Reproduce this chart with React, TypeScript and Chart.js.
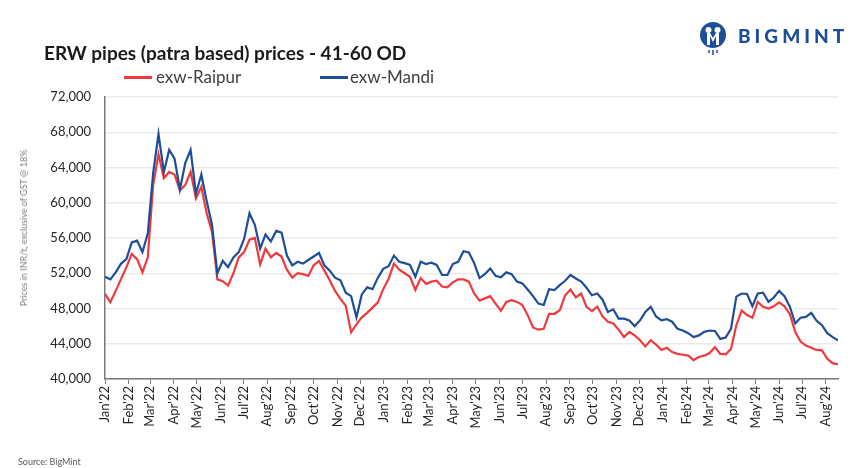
import React, { useEffect, useRef } from "react";
import { Chart, registerables } from "chart.js";

Chart.register(...registerables);

const chartTitle = "ERW pipes (patra based) prices - 41-60 OD";
const seriesNames = ["exw-Raipur", "exw-Mandi"];
const yAxisTitle = "Prices in INR/t, exclusive of GST @ 18%";
const sourceText = "Source: BigMint";

const monthLabels = [
  "Jan'22", "Feb'22", "Mar'22", "Apr'22", "May'22", "Jun'22", "Jul'22", "Aug'22", "Sep'22", "Oct'22", "Nov'22", "Dec'22",
  "Jan'23", "Feb'23", "Mar'23", "Apr'23", "May'23", "Jun'23", "Jul'23", "Aug'23", "Sep'23", "Oct'23", "Nov'23", "Dec'23",
  "Jan'24", "Feb'24", "Mar'24", "Apr'24", "May'24", "Jun'24", "Jul'24", "Aug'24",
];
// day offsets (from 1 Jan 2022) of each month start
const monthStartDays = [
  0, 31, 59, 90, 120, 151, 181, 212, 243, 273, 304, 334,
  365, 396, 424, 455, 485, 516, 546, 577, 608, 638, 669, 699,
  730, 761, 790, 821, 851, 882, 912, 943,
];
const lastDay = 959;
const daysPerPoint = 7;
const yTickValues = [40000, 44000, 48000, 52000, 56000, 60000, 64000, 68000, 72000];

// weekly readings, INR/t
const raipur = [
  49650, 48700, 50000, 51350, 52700, 54200, 53600, 52100, 53800, 62000,
  65500, 62800, 63500, 63200, 61400, 62000, 63500, 60500, 61800, 58800,
  56700, 51300, 51100, 50600, 52000, 53800, 54400, 55800, 56000, 53000,
  54800, 53800, 54300, 53900, 52400, 51500, 52000, 51900, 51700, 52900,
  53400, 52300, 51200, 50000, 49100, 48300, 45300, 46200, 47000, 47500,
  48100, 48700, 50200, 51350, 53100, 52400, 52000, 51600, 50100, 51450,
  50800, 51050, 51150, 50500, 50400, 50950, 51300, 51300, 51050, 49700,
  48900, 49150, 49400, 48550, 47750, 48750, 48950, 48750, 48400, 47250,
  45850, 45600, 45700, 47400, 47400, 47800, 49500, 50150, 49250, 49700,
  48200, 47700, 48200, 47100, 46500, 46300, 45600, 44750, 45350, 44950,
  44400, 43700, 44400, 43900, 43300, 43550, 43050, 42850, 42750, 42650,
  42150, 42500, 42650, 42950, 43600, 42850, 42800, 43400, 46100, 47750,
  47250, 46950, 48750, 48200, 48000, 48250, 48700, 48250, 47350, 45350,
  44250, 43800, 43550, 43300, 43250, 42300, 41800, 41650,
];
const mandi = [
  51600, 51300, 52100, 53100, 53600, 55500, 55700, 54400, 56500, 63350,
  67800, 63500, 66000, 65000, 61500, 64500, 66000, 61000, 63200, 60200,
  57500, 52000, 53400, 52700, 53800, 54400, 55900, 58800, 57500, 54800,
  56400, 55600, 56800, 56600, 54000, 52900, 53300, 53100, 53500, 53900,
  54300, 52900, 52300, 51500, 51200, 49800, 49400, 47000, 49600, 50400,
  50200, 51500, 52500, 52800, 54000, 53300, 53150, 52950, 51600, 53300,
  53050, 53200, 52950, 51800, 51800, 53050, 53300, 54500, 54350, 53150,
  51450, 51900, 52550, 51700, 51550, 52100, 51900, 51050, 50850, 50150,
  49400, 48550, 48400, 50200, 50100, 50650, 51150, 51800, 51400, 51050,
  50350, 49500, 49700, 49000, 47600, 47900, 46850, 46850, 46650, 46000,
  46650, 47600, 48200, 47100, 46650, 46800, 46500, 45700, 45500, 45200,
  44750, 44950, 45350, 45500, 45450, 44550, 44700, 45700, 49350, 49700,
  49650, 48250, 49700, 49800, 48750, 49250, 50000, 49400, 48200, 46300,
  46950, 47050, 47500, 46600, 46100, 45200, 44750, 44400,
];

const RED = "#f0393c";
const BLUE = "#1f4e99";
const AXIS = "#7a7a7a";
const GRID = "#ebebeb";
const TEXT = "#262626";
const FONT = "Lato, 'Open Sans', sans-serif";

const toPoints = (vals: number[]) => vals.map((v, i) => ({ x: i * daysPerPoint, y: v }));

export default function App() {
  const canvasRef = useRef<HTMLCanvasElement | null>(null);

  useEffect(() => {
    if (!canvasRef.current) return;
    const chart = new Chart(canvasRef.current, {
      type: "line",
      data: {
        datasets: [
          {
            label: seriesNames[0],
            data: toPoints(raipur),
            borderColor: RED,
            backgroundColor: RED,
            borderWidth: 2.2,
            pointRadius: 0,
            tension: 0,
            order: 2,
          },
          {
            label: seriesNames[1],
            data: toPoints(mandi),
            borderColor: BLUE,
            backgroundColor: BLUE,
            borderWidth: 2.2,
            pointRadius: 0,
            tension: 0,
            order: 1,
          },
        ],
      },
      options: {
        responsive: false,
        animation: false,
        devicePixelRatio: 1,
        layout: { padding: { top: 97, right: 16, left: 0, bottom: 0 } },
        plugins: {
          legend: { display: false },
          tooltip: { enabled: false },
          title: { display: false },
        },
        scales: {
          x: {
            type: "linear",
            min: 0,
            max: lastDay,
            afterBuildTicks: (s: any) => {
              s.ticks = monthStartDays.map((v) => ({ value: v }));
            },
            afterFit: (s: any) => {
              s.height = 89;
            },
            ticks: {
              autoSkip: false,
              minRotation: 90,
              maxRotation: 90,
              padding: 2,
              color: TEXT,
              font: { family: FONT, size: 13 },
              callback: (v: any) => {
                const k = monthStartDays.indexOf(Number(v));
                return k >= 0 ? monthLabels[k] : "";
              },
            },
            grid: { drawOnChartArea: false, drawTicks: true, tickLength: 5, color: AXIS, lineWidth: 1 },
            border: { color: AXIS, width: 1.5 },
          },
          y: {
            type: "linear",
            min: yTickValues[0],
            max: yTickValues[yTickValues.length - 1],
            afterBuildTicks: (s: any) => {
              s.ticks = yTickValues.map((v) => ({ value: v }));
            },
            afterFit: (s: any) => {
              s.width = 105;
            },
            ticks: {
              padding: 14,
              color: TEXT,
              font: { family: FONT, size: 13 },
              callback: (v: any) => Number(v).toLocaleString("en-US"),
            },
            grid: { color: GRID, lineWidth: 1.5, drawTicks: false },
            border: { color: AXIS, width: 1.5 },
          },
        },
      },
    });
    return () => chart.destroy();
  }, []);

  return (
    <div
      style={{
        position: "fixed",
        left: 0,
        top: 0,
        width: 854,
        height: 468,
        background: "#ffffff",
        fontFamily: FONT,
        overflow: "hidden",
      }}
    >
      <canvas ref={canvasRef} width={854} height={468} style={{ position: "absolute", left: 0, top: 0 }} />
      <div
        style={{
          position: "absolute",
          left: 44,
          top: 41,
          fontSize: 19,
          lineHeight: "23px",
          fontWeight: 700,
          color: "#1a1a1a",
          whiteSpace: "nowrap",
        }}
      >
        {chartTitle}
      </div>
      <div style={{ position: "absolute", left: 124, top: 76, width: 28, height: 3, background: RED }} />
      <div style={{ position: "absolute", left: 156, top: 67, fontSize: 17, lineHeight: "20px", color: "#404040" }}>
        {seriesNames[0]}
      </div>
      <div style={{ position: "absolute", left: 320, top: 76, width: 28, height: 3, background: BLUE }} />
      <div style={{ position: "absolute", left: 350, top: 67, fontSize: 17, lineHeight: "20px", color: "#404040" }}>
        {seriesNames[1]}
      </div>
      <div
        style={{
          position: "absolute",
          left: 24,
          top: 228,
          fontSize: 9,
          lineHeight: "10px",
          color: "#7f7f7f",
          whiteSpace: "nowrap",
          transform: "translate(-50%, -50%) rotate(-90deg)",
        }}
      >
        {yAxisTitle}
      </div>
      <div style={{ position: "absolute", left: 18, top: 456, fontSize: 9, lineHeight: "11px", color: "#595959" }}>
        {sourceText}
      </div>
      <svg style={{ position: "absolute", left: 698, top: 20 }} width={32} height={36}>
        <circle cx={15} cy={15} r={13} fill={BLUE} />
        <circle cx={10.5} cy={10} r={3} fill="#fff" />
        <circle cx={19.5} cy={10} r={3} fill="#fff" />
        <path d="M9 13 L9 25 L12 25 L12 16 L15 22 L18 16 L18 25 L21 25 L21 13 L18 13 L15 18 L12 13 Z" fill="#fff" />
        <line x1={11} y1={30} x2={11} y2={33} stroke={BLUE} strokeWidth={1.5} />
        <line x1={15} y1={30} x2={15} y2={35} stroke={BLUE} strokeWidth={1.5} />
        <line x1={19} y1={30} x2={19} y2={33} stroke={BLUE} strokeWidth={1.5} />
      </svg>
      <div
        style={{
          position: "absolute",
          left: 738,
          top: 25,
          fontSize: 19,
          lineHeight: "22px",
          fontWeight: 900,
          letterSpacing: 4,
          color: BLUE,
          whiteSpace: "nowrap",
        }}
      >
        BIGMINT
      </div>
    </div>
  );
}
